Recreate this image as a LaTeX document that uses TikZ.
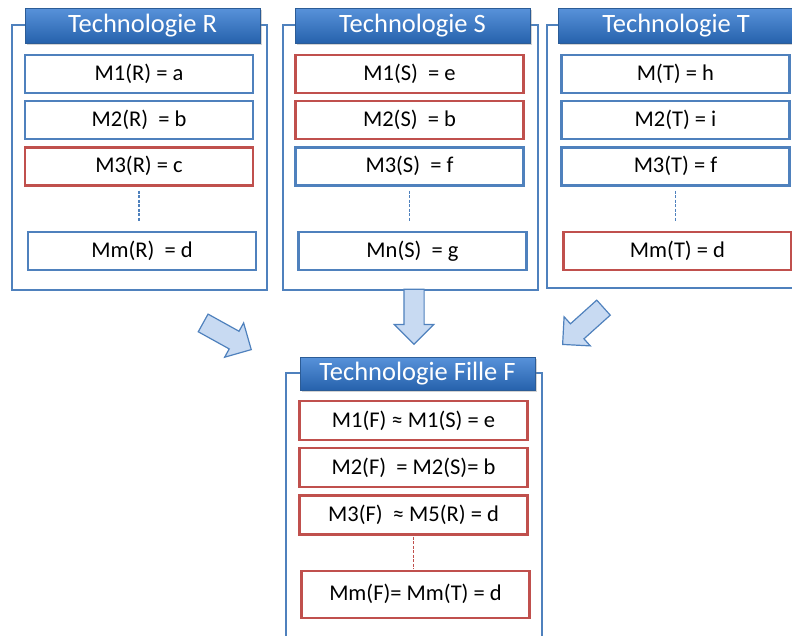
\documentclass[tikz,border=0pt]{standalone}
\usepackage{fontspec}
\setmainfont{Carlito}
\usepackage{tikz}
\usetikzlibrary{positioning,shapes.arrows,shadows}
\definecolor{frameblue}{RGB}{79,129,189}
\definecolor{boxred}{RGB}{192,80,77}
\definecolor{tabtop}{RGB}{88,146,218}
\definecolor{tabbot}{RGB}{38,98,172}
\definecolor{tabedge}{RGB}{44,92,150}
\definecolor{arrowfill}{RGB}{200,218,242}

\begin{document}
\begin{tikzpicture}[x=1pt, y=-1pt, node distance=5.5pt,
  frame/.style={draw=frameblue, line width=2.2pt},
  tab/.style={draw=tabedge, line width=0.8pt, top color=tabtop, bottom color=tabbot, text=white,
    minimum width=235pt, minimum height=35pt, inner sep=0pt, font=\fontsize{26.5}{26.5}\selectfont,
    drop shadow={opacity=0.35, shadow xshift=1.5pt, shadow yshift=-2pt}},
  mbox/.style={draw=frameblue, line width=2.6pt, fill=white, minimum width=228pt, minimum height=38pt,
    inner sep=0pt, font=\fontsize{22.5}{22.5}\selectfont},
  rbox/.style={mbox, draw=boxred},
  mlink/.style={draw=frameblue, line width=1.4pt, dash pattern=on 3pt off 1.5pt, shorten <=4pt, shorten >=9pt},
  fat/.style={single arrow, draw=frameblue, fill=arrowfill, line width=1.2pt, minimum height=55pt,
    minimum width=38pt, single arrow head extend=9.5pt, inner xsep=0pt, inner ysep=9.5pt, anchor=tip}]
\useasboundingbox (0,0) rectangle (792,635);
\draw[frame] (12,25) rectangle (267,290);
\draw[frame] (283,25) rectangle (538,290);
\draw[frame] (547,25) rectangle (802,288);
\draw[frame] (286,373) rectangle (542,660);
\node[tab] (tabR) at (142.5,25.5) {Technologie R};
\node[tab] (tabS) at (412.5,25.5) {Technologie S};
\node[tab] (tabT) at (676,25.5) {Technologie T};
\node[tab, minimum height=33pt] (tabF) at (417.5,373.5) {Technologie Fille F};
\node[mbox] (r1) at (139,74) {M1(R) = a};
\node[mbox, below=of r1] (r2) {M2(R)~~= b};
\node[rbox, below=of r2] (r3) {M3(R) = c};
\node[mbox, below=44pt of r3, xshift=3pt] (rm) {Mm(R)~~= d};
\node[rbox] (s1) at (409.5,74) {M1(S)~~= e};
\node[rbox, below=of s1] (s2) {M2(S)~~= b};
\node[mbox, below=of s2] (s3) {M3(S)~~= f};
\node[mbox, below=44pt of s3, xshift=3pt] (sn) {Mn(S)~~= g};
\node[mbox] (t1) at (675.5,74) {M(T) = h};
\node[mbox, below=of t1] (t2) {M2(T) = i};
\node[mbox, below=of t2] (t3) {M3(T) = f};
\node[rbox, below=44pt of t3, xshift=2pt] (tm) {Mm(T) = d};
\node[rbox, minimum height=39pt] (f1) at (413.5,420.5) {M1(F) ≈ M1(S) = e};
\node[rbox, minimum height=39pt, below=of f1] (f2) {M2(F)~~= M2(S)= b};
\node[rbox, minimum height=39pt, below=of f2] (f3) {M3(F)~~≈ M5(R) = d};
\node[rbox, minimum height=47pt, below=34pt of f3, xshift=2pt] (fm) {Mm(F)= Mm(T) = d};
\draw[mlink] (r3.south) -- (r3.south |- rm.north);
\draw[mlink] (s3.south) -- (s3.south |- sn.north);
\draw[mlink] (t3.south) -- (t3.south |- tm.north);
\draw[mlink, draw=boxred, shorten >=1pt, shorten <=1pt] (f3.south) -- (f3.south |- fm.north);
\node[fat, rotate=-29] (arR) at (252,350) {};
\node[fat, rotate=-90] (arS) at (414,345) {};
\node[fat, rotate=-138] (arT) at (562,345) {};
\end{tikzpicture}
\end{document}
